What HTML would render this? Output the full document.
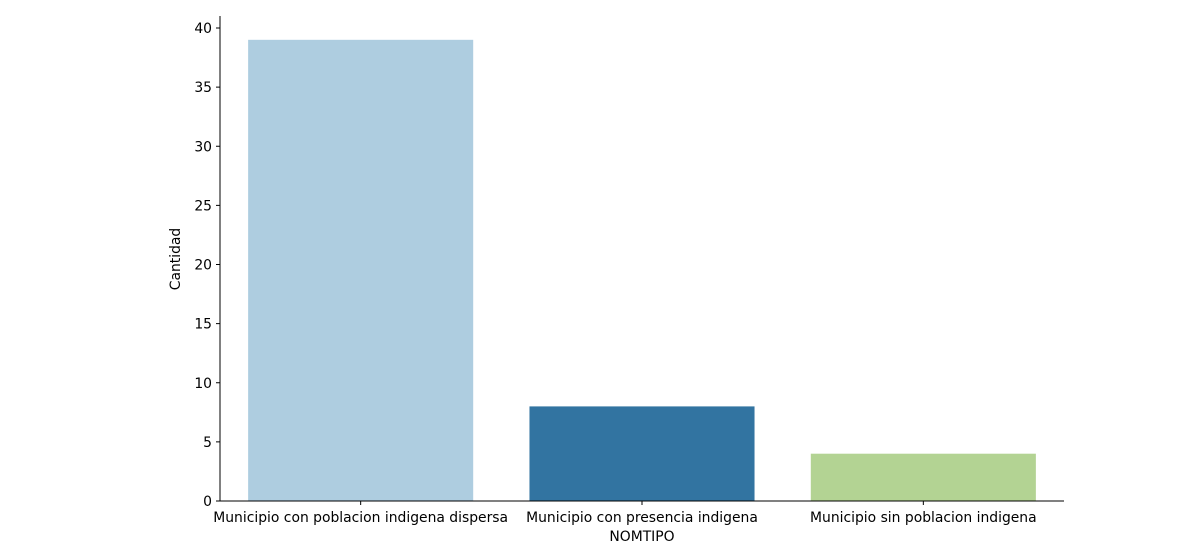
<!DOCTYPE html>
<html><head><meta charset="utf-8"><style>
body{margin:0;background:#fff;}
svg{display:block;font-family:"DejaVu Sans","Liberation Sans",sans-serif;}
</style></head><body>
<svg id="chart" width="1201" height="543">
<g id="bars"></g>
<g id="axes"></g>
</svg>
<script>
const categories = ["Municipio con poblacion indigena dispersa","Municipio con presencia indigena","Municipio sin poblacion indigena"];
const values = [39, 8, 4];
const colors = ["#aecde0","#3274a1","#b3d393"];
const yTicks = [0,5,10,15,20,25,30,35,40];

const FS=13.9;
const X0=220, X1=1064, Y0=501, Ytop=16;
const yScale = v => Y0 - v*(501-28)/40;
const band = (X1-X0)/categories.length;
const xCenter = i => X0 + band*(i+0.5);
const ns="http://www.w3.org/2000/svg";
const bars=document.getElementById('bars'), axes=document.getElementById('axes');
function mk(tag, attrs, parent){const e=document.createElementNS(ns,tag);for(const k in attrs)e.setAttribute(k,attrs[k]);parent.appendChild(e);return e;}

categories.forEach((c,i)=>{
  const w=band*0.8;
  const r=mk('rect',{x:xCenter(i)-w/2,y:yScale(values[i]),width:w,height:Y0-yScale(values[i]),fill:colors[i]},bars);
  
  
  mk('line',{x1:xCenter(i),x2:xCenter(i),y1:Y0,y2:Y0+4,stroke:'#000','stroke-width':1},axes);
  const t=mk('text',{x:xCenter(i),y:Y0+21,'text-anchor':'middle','font-size':FS,fill:'#000'},axes);
  t.textContent=c;
  
  
});
yTicks.forEach(v=>{
  mk('line',{x1:X0-4,x2:X0,y1:yScale(v),y2:yScale(v),stroke:'#000','stroke-width':1},axes);
  const t=mk('text',{x:X0-8,y:yScale(v)+5,'text-anchor':'end','font-size':FS,fill:'#000'},axes);
  t.textContent=v;
  
  
});
const ya=mk('line',{x1:X0,x2:X0,y1:Ytop,y2:Y0,stroke:'#000','stroke-width':1},axes);


const xa=mk('line',{x1:X0,x2:X1,y1:Y0,y2:Y0,stroke:'#000','stroke-width':1},axes);


const xt=mk('text',{x:(X0+X1)/2,y:541,'text-anchor':'middle','font-size':FS},axes);
xt.textContent='NOMTIPO';


const yt=mk('text',{x:0,y:0,'text-anchor':'middle','font-size':FS,transform:'translate(184,259) rotate(-90)'},axes);
yt.setAttribute('transform','translate(180,259) rotate(-90)');
yt.textContent='Cantidad';


</script>
</body></html>
